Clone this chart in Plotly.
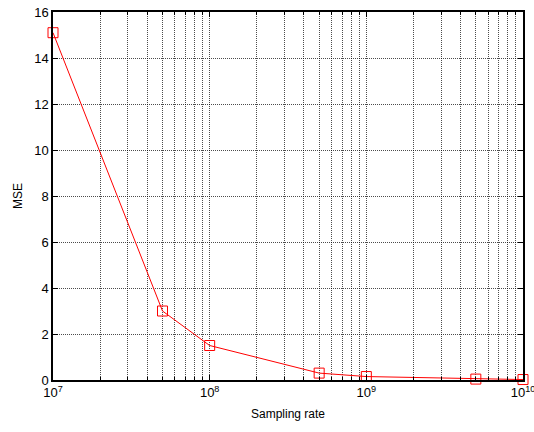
import plotly.graph_objects as go

# Sampling rate vs. mean squared error
sampling_rate = [1e7, 5e7, 1e8, 5e8, 1e9, 5e9, 1e10]
mse = [15.1, 3.0, 1.5, 0.3, 0.15, 0.04, 0.02]

major_vals = [1e7, 1e8, 1e9, 1e10]
major_text = ["10<sup>7</sup>", "10<sup>8</sup>", "10<sup>9</sup>", "10<sup>10</sup>"]
minor_vals = [m * 10 ** e for e in (7, 8, 9) for m in range(2, 10)]
y_vals = [0, 2, 4, 6, 8, 10, 12, 14, 16]

grid_color = "rgba(0,0,0,0.7)"
grid_dash = "1px,1px"
family = "Liberation Sans, Arial, sans-serif"
tick_font = dict(family=family, size=13, color="black")
title_font = dict(family=family, size=12, color="black")

fig = go.Figure()
fig.add_trace(go.Scatter(
    x=sampling_rate, y=mse,
    mode="lines+markers",
    line=dict(color="red", width=1),
    marker=dict(symbol="square-open", size=10, color="red", line=dict(width=1)),
    showlegend=False,
    cliponaxis=False,
))

fig.update_layout(
    width=534, height=432,
    margin=dict(l=53, r=11, t=12, b=52),
    paper_bgcolor="white",
    plot_bgcolor="white",
    font=title_font,
    xaxis=dict(
        type="log",
        range=[7, 10],
        automargin=False,
        tickmode="array",
        tickvals=major_vals,
        ticktext=major_text,
        ticklabeloverflow="allow",
        ticks="inside", ticklen=5, tickcolor="black",
        showgrid=True, gridcolor=grid_color, griddash=grid_dash, gridwidth=1,
        minor=dict(tickmode="array", tickvals=minor_vals, ticks="inside", ticklen=3,
                   tickcolor="black", showgrid=True, gridcolor=grid_color,
                   griddash=grid_dash, gridwidth=1),
        showline=True, linecolor="black", linewidth=1.5, mirror="ticks",
        zeroline=False,
        title=dict(text="Sampling rate", standoff=10, font=title_font),
        tickfont=tick_font,
    ),
    yaxis=dict(
        range=[0, 16],
        automargin=False,
        tickmode="array",
        tickvals=y_vals,
        ticks="inside", ticklen=5, tickcolor="black",
        showgrid=True, gridcolor=grid_color, griddash=grid_dash, gridwidth=1,
        showline=True, linecolor="black", linewidth=1.5, mirror="ticks",
        zeroline=False,
        title=dict(text="MSE", standoff=9, font=title_font),
        tickfont=tick_font,
    ),
)

fig.write_html("out.html")
